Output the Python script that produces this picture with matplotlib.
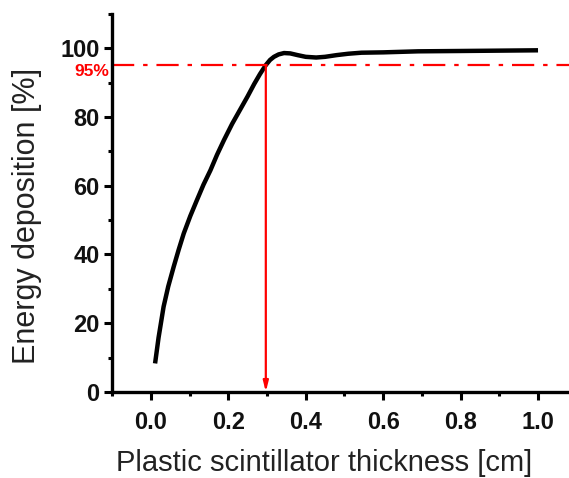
""" Energy deposition vs plastic scintillator thickness """

import matplotlib
matplotlib.use("Agg")
import matplotlib.pyplot as plt
from matplotlib.ticker import MultipleLocator

thickness = [0.011, 0.02, 0.033, 0.045, 0.059, 0.072, 0.085, 0.102, 0.119,
             0.136, 0.154, 0.171, 0.189, 0.21, 0.232, 0.25, 0.267, 0.282,
             0.297, 0.308, 0.318, 0.33, 0.344, 0.36, 0.379, 0.40, 0.427,
             0.45, 0.48, 0.51, 0.544, 0.6, 0.69, 0.8, 0.9, 1.0]
deposition = [8.3, 15.8, 24.8, 30.7, 36.4, 41.4, 46.1, 51.2, 55.8,
              60.3, 64.5, 69.0, 73.3, 78.0, 82.4, 86.0, 89.6, 92.5,
              95.1, 96.6, 97.5, 98.2, 98.6, 98.5, 98.0, 97.5, 97.3,
              97.5, 98.0, 98.4, 98.7, 98.8, 99.1, 99.2, 99.3, 99.4]
threshold = 95
threshold_x = 0.297
xtick_vals = [0.0, 0.2, 0.4, 0.6, 0.8, 1.0]
xtick_labels = ["0.0", "0.2", "0.4", "0.6", "0.8", "1.0"]
ytick_vals = [0, 20, 40, 60, 80, 100]

plt.rcParams["font.family"] = ["Liberation Sans", "DejaVu Sans"]

fig = plt.figure(figsize=(5.69, 4.78), dpi=100)
ax = fig.add_axes([0.197, 0.18, 0.803, 0.791])

ax.plot(thickness, deposition, color="black", lw=3.2,
        solid_capstyle="butt", solid_joinstyle="round")
ax.axhline(threshold, color="red", lw=1.6, linestyle=(0, (10, 4, 2, 4)))
ax.annotate("", xy=(threshold_x, 0), xytext=(threshold_x, threshold),
            arrowprops=dict(arrowstyle="-|>,head_length=0.6,head_width=0.15",
                            color="red", lw=1.6, shrinkA=0, shrinkB=0))
ax.text(-0.107, threshold - 1.8, "95%", color="red", fontsize=12.5,
        fontweight="bold", ha="right", va="center")

ax.set_xlim(-0.1, 1.08)
ax.set_ylim(0, 110)
ax.xaxis.set_minor_locator(MultipleLocator(0.1))
ax.yaxis.set_minor_locator(MultipleLocator(10))
ax.set_xticks(xtick_vals)
ax.set_xticklabels(xtick_labels)
ax.set_yticks(ytick_vals)

for side in ("top", "right"):
    ax.spines[side].set_visible(False)
for side in ("left", "bottom"):
    ax.spines[side].set_linewidth(2.4)

ax.tick_params(which="major", direction="out", length=6, width=2.2,
               labelsize=17, pad=3)
ax.tick_params(axis="x", which="major", pad=8)
ax.tick_params(which="minor", direction="out", length=3, width=2.2)
for lbl in ax.get_xticklabels() + ax.get_yticklabels():
    lbl.set_fontweight("bold")
    lbl.set_color("#111111")

ax.set_xlabel("Plastic scintillator thickness [cm]", fontsize=21,
              color="#222222")
ax.set_ylabel("Energy deposition [%]", fontsize=22, color="#222222")
ax.xaxis.set_label_coords(0.464, -0.15)
ax.yaxis.set_label_coords(-0.154, 0.466)

fig.savefig("out.png", dpi=100)
